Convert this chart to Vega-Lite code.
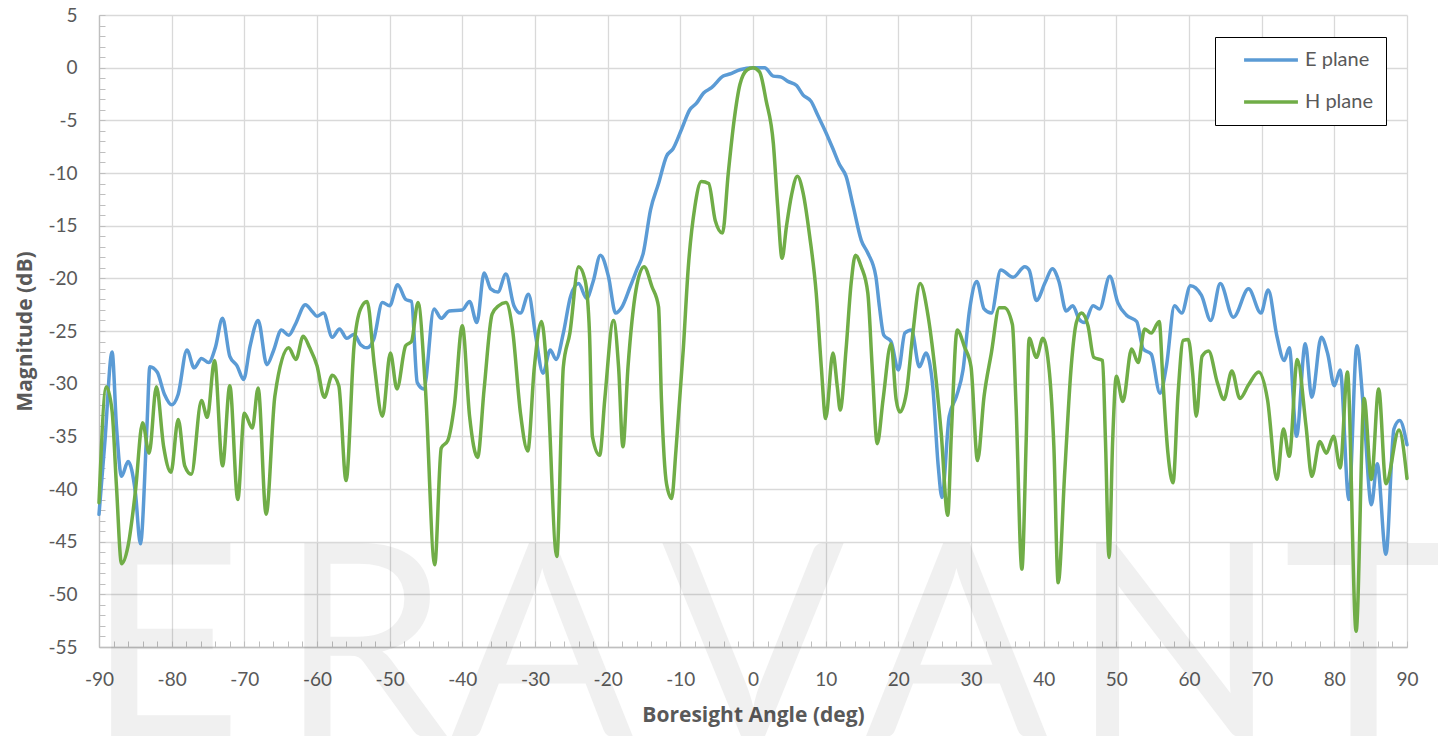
{
"$schema": "https://vega.github.io/schema/vega-lite/v6.json",
"width": 1308, "height": 632,
"autosize": "none",
"padding": {"left": 99, "top": 15, "right": 31, "bottom": 89},
"background": "white",
"config": {"view": {"stroke": null}, "font": "Lato"},
"resolve": {"axis": {"x": "independent", "y": "independent"}},
"layer": [
{
"data": {"values": [{"angle": -81, "letter": "E"}, {"angle": -53.5, "letter": "R"}, {"angle": -29, "letter": "A"}, {"angle": 0, "letter": "V"}, {"angle": 28, "letter": "A"}, {"angle": 58, "letter": "N"}, {"angle": 84, "letter": "T"}]},
"mark": {"type": "text", "fontSize": 270, "font": "Lato", "baseline": "alphabetic", "align": "center", "color": "#000000", "opacity": 0.055},
"encoding": {
"x": {"field": "angle", "type": "quantitative", "scale": {"domain": [-90, 90], "nice": false},
"axis": {"orient": "bottom", "values": [-90,-88,-86,-84,-82,-80,-78,-76,-74,-72,-70,-68,-66,-64,-62,-60,-58,-56,-54,-52,-50,-48,-46,-44,-42,-40,-38,-36,-34,-32,-30,-28,-26,-24,-22,-20,-18,-16,-14,-12,-10,-8,-6,-4,-2,0,2,4,6,8,10,12,14,16,18,20,22,24,26,28,30,32,34,36,38,40,42,44,46,48,50,52,54,56,58,60,62,64,66,68,70,72,74,76,78,80,82,84,86,88,90], "labels": false, "grid": false, "domain": false, "ticks": true, "tickSize": -6, "tickColor": "#bfbfbf", "tickWidth": 1, "title": null}},
"y": {"datum": -63.5, "type": "quantitative", "scale": {"domain": [-55, 5], "nice": false},
"axis": {"orient": "left", "values": [-55,-54,-53,-52,-51,-50,-49,-48,-47,-46,-45,-44,-43,-42,-41,-40,-39,-38,-37,-36,-35,-34,-33,-32,-31,-30,-29,-28,-27,-26,-25,-24,-23,-22,-21,-20,-19,-18,-17,-16,-15,-14,-13,-12,-11,-10,-9,-8,-7,-6,-5,-4,-3,-2,-1,0,1,2,3,4,5], "labels": false, "grid": false, "domain": false, "ticks": true, "tickSize": -6, "tickColor": "#bfbfbf", "tickWidth": 1, "title": null}},
"text": {"field": "letter"}
}
},
{
"data": {"values": [
{"angle":-90,"magnitude":-42.4,"plane":"E plane"},{"angle":-89.2,"magnitude":-35.6,"plane":"E plane"},{"angle":-88.2,"magnitude":-27.0,"plane":"E plane"},{"angle":-87.6,"magnitude":-34.0,"plane":"E plane"},{"angle":-86.9,"magnitude":-38.8,"plane":"E plane"},{"angle":-86.0,"magnitude":-37.4,"plane":"E plane"},{"angle":-85.0,"magnitude":-40.3,"plane":"E plane"},{"angle":-84.3,"magnitude":-45.2,"plane":"E plane"},{"angle":-83.4,"magnitude":-34.0,"plane":"E plane"},{"angle":-83.0,"magnitude":-28.4,"plane":"E plane"},{"angle":-82.0,"magnitude":-28.9,"plane":"E plane"},{"angle":-81.0,"magnitude":-31.0,"plane":"E plane"},{"angle":-80.0,"magnitude":-32.0,"plane":"E plane"},{"angle":-79.1,"magnitude":-31.0,"plane":"E plane"},{"angle":-77.9,"magnitude":-26.8,"plane":"E plane"},{"angle":-76.9,"magnitude":-28.5,"plane":"E plane"},{"angle":-75.9,"magnitude":-27.6,"plane":"E plane"},{"angle":-74.9,"magnitude":-28.0,"plane":"E plane"},{"angle":-74.0,"magnitude":-26.6,"plane":"E plane"},{"angle":-73.0,"magnitude":-23.8,"plane":"E plane"},{"angle":-72.0,"magnitude":-27.4,"plane":"E plane"},{"angle":-71.0,"magnitude":-28.3,"plane":"E plane"},{"angle":-70.1,"magnitude":-29.6,"plane":"E plane"},{"angle":-69.2,"magnitude":-26.4,"plane":"E plane"},{"angle":-68.1,"magnitude":-24.0,"plane":"E plane"},{"angle":-66.9,"magnitude":-28.2,"plane":"E plane"},{"angle":-66.0,"magnitude":-26.9,"plane":"E plane"},{"angle":-64.9,"magnitude":-24.9,"plane":"E plane"},{"angle":-63.9,"magnitude":-25.4,"plane":"E plane"},{"angle":-63.0,"magnitude":-24.4,"plane":"E plane"},{"angle":-61.6,"magnitude":-22.5,"plane":"E plane"},{"angle":-60.6,"magnitude":-23.2,"plane":"E plane"},{"angle":-60.0,"magnitude":-23.6,"plane":"E plane"},{"angle":-59.1,"magnitude":-23.3,"plane":"E plane"},{"angle":-57.9,"magnitude":-25.6,"plane":"E plane"},{"angle":-56.9,"magnitude":-24.8,"plane":"E plane"},{"angle":-55.9,"magnitude":-25.7,"plane":"E plane"},{"angle":-54.9,"magnitude":-25.3,"plane":"E plane"},{"angle":-54.0,"magnitude":-26.3,"plane":"E plane"},{"angle":-53.1,"magnitude":-26.6,"plane":"E plane"},{"angle":-52.2,"magnitude":-25.8,"plane":"E plane"},{"angle":-51.0,"magnitude":-22.3,"plane":"E plane"},{"angle":-50.0,"magnitude":-22.6,"plane":"E plane"},{"angle":-48.9,"magnitude":-20.6,"plane":"E plane"},{"angle":-47.8,"magnitude":-22.0,"plane":"E plane"},{"angle":-47.0,"magnitude":-22.2,"plane":"E plane"},{"angle":-46.2,"magnitude":-29.9,"plane":"E plane"},{"angle":-45.3,"magnitude":-30.5,"plane":"E plane"},{"angle":-43.9,"magnitude":-22.9,"plane":"E plane"},{"angle":-42.9,"magnitude":-23.8,"plane":"E plane"},{"angle":-41.8,"magnitude":-23.1,"plane":"E plane"},{"angle":-40.0,"magnitude":-23.0,"plane":"E plane"},{"angle":-39.0,"magnitude":-22.2,"plane":"E plane"},{"angle":-38.0,"magnitude":-24.2,"plane":"E plane"},{"angle":-37.0,"magnitude":-19.5,"plane":"E plane"},{"angle":-36.1,"magnitude":-21.0,"plane":"E plane"},{"angle":-35.1,"magnitude":-21.3,"plane":"E plane"},{"angle":-34.0,"magnitude":-19.6,"plane":"E plane"},{"angle":-32.9,"magnitude":-22.6,"plane":"E plane"},{"angle":-32.0,"magnitude":-23.3,"plane":"E plane"},{"angle":-30.9,"magnitude":-21.5,"plane":"E plane"},{"angle":-29.9,"magnitude":-25.5,"plane":"E plane"},{"angle":-28.9,"magnitude":-29.0,"plane":"E plane"},{"angle":-27.9,"magnitude":-26.8,"plane":"E plane"},{"angle":-27.1,"magnitude":-27.7,"plane":"E plane"},{"angle":-26.1,"magnitude":-25.2,"plane":"E plane"},{"angle":-25.1,"magnitude":-21.7,"plane":"E plane"},{"angle":-24.0,"magnitude":-20.5,"plane":"E plane"},{"angle":-22.9,"magnitude":-21.9,"plane":"E plane"},{"angle":-22.0,"magnitude":-20.3,"plane":"E plane"},{"angle":-21.0,"magnitude":-17.8,"plane":"E plane"},{"angle":-19.9,"magnitude":-19.8,"plane":"E plane"},{"angle":-18.9,"magnitude":-23.3,"plane":"E plane"},{"angle":-18.1,"magnitude":-22.8,"plane":"E plane"},{"angle":-16.9,"magnitude":-20.8,"plane":"E plane"},{"angle":-16.0,"magnitude":-19.2,"plane":"E plane"},{"angle":-15.1,"magnitude":-17.6,"plane":"E plane"},{"angle":-14.1,"magnitude":-13.5,"plane":"E plane"},{"angle":-13.0,"magnitude":-11.0,"plane":"E plane"},{"angle":-11.9,"magnitude":-8.4,"plane":"E plane"},{"angle":-11.0,"magnitude":-7.7,"plane":"E plane"},{"angle":-9.8,"magnitude":-5.8,"plane":"E plane"},{"angle":-8.7,"magnitude":-4.0,"plane":"E plane"},{"angle":-7.8,"magnitude":-3.4,"plane":"E plane"},{"angle":-6.8,"magnitude":-2.4,"plane":"E plane"},{"angle":-5.7,"magnitude":-1.9,"plane":"E plane"},{"angle":-4.1,"magnitude":-0.8,"plane":"E plane"},{"angle":-3.2,"magnitude":-0.6,"plane":"E plane"},{"angle":-1.8,"magnitude":-0.2,"plane":"E plane"},{"angle":0,"magnitude":0,"plane":"E plane"},{"angle":1.6,"magnitude":0,"plane":"E plane"},{"angle":2.8,"magnitude":-0.8,"plane":"E plane"},{"angle":3.9,"magnitude":-0.9,"plane":"E plane"},{"angle":4.8,"magnitude":-1.3,"plane":"E plane"},{"angle":6.0,"magnitude":-1.7,"plane":"E plane"},{"angle":6.9,"magnitude":-2.6,"plane":"E plane"},{"angle":8.0,"magnitude":-3.2,"plane":"E plane"},{"angle":8.9,"magnitude":-4.5,"plane":"E plane"},{"angle":10.0,"magnitude":-6.1,"plane":"E plane"},{"angle":11.0,"magnitude":-7.7,"plane":"E plane"},{"angle":11.9,"magnitude":-9.2,"plane":"E plane"},{"angle":12.8,"magnitude":-10.3,"plane":"E plane"},{"angle":13.8,"magnitude":-13.2,"plane":"E plane"},{"angle":14.9,"magnitude":-16.4,"plane":"E plane"},{"angle":15.8,"magnitude":-17.6,"plane":"E plane"},{"angle":16.9,"magnitude":-19.8,"plane":"E plane"},{"angle":17.4,"magnitude":-22.7,"plane":"E plane"},{"angle":18.0,"magnitude":-25.4,"plane":"E plane"},{"angle":19.0,"magnitude":-26.0,"plane":"E plane"},{"angle":20.0,"magnitude":-28.7,"plane":"E plane"},{"angle":20.9,"magnitude":-25.2,"plane":"E plane"},{"angle":21.8,"magnitude":-24.9,"plane":"E plane"},{"angle":22.9,"magnitude":-28.4,"plane":"E plane"},{"angle":23.8,"magnitude":-27.1,"plane":"E plane"},{"angle":24.7,"magnitude":-30.0,"plane":"E plane"},{"angle":25.5,"magnitude":-37.9,"plane":"E plane"},{"angle":26.0,"magnitude":-40.8,"plane":"E plane"},{"angle":27.0,"magnitude":-33.1,"plane":"E plane"},{"angle":28.0,"magnitude":-31.2,"plane":"E plane"},{"angle":28.9,"magnitude":-28.7,"plane":"E plane"},{"angle":29.8,"magnitude":-23.0,"plane":"E plane"},{"angle":30.8,"magnitude":-20.3,"plane":"E plane"},{"angle":31.8,"magnitude":-22.9,"plane":"E plane"},{"angle":32.8,"magnitude":-23.3,"plane":"E plane"},{"angle":34.1,"magnitude":-19.2,"plane":"E plane"},{"angle":35.8,"magnitude":-19.9,"plane":"E plane"},{"angle":37.4,"magnitude":-18.9,"plane":"E plane"},{"angle":38.0,"magnitude":-19.2,"plane":"E plane"},{"angle":39.0,"magnitude":-22.1,"plane":"E plane"},{"angle":40.2,"magnitude":-20.4,"plane":"E plane"},{"angle":41.2,"magnitude":-19.1,"plane":"E plane"},{"angle":42.1,"magnitude":-20.3,"plane":"E plane"},{"angle":43.1,"magnitude":-23.1,"plane":"E plane"},{"angle":44.0,"magnitude":-22.6,"plane":"E plane"},{"angle":44.9,"magnitude":-23.9,"plane":"E plane"},{"angle":45.6,"magnitude":-24.2,"plane":"E plane"},{"angle":46.8,"magnitude":-22.6,"plane":"E plane"},{"angle":47.7,"magnitude":-22.9,"plane":"E plane"},{"angle":49.1,"magnitude":-19.8,"plane":"E plane"},{"angle":50.2,"magnitude":-22.3,"plane":"E plane"},{"angle":51.4,"magnitude":-23.5,"plane":"E plane"},{"angle":52.8,"magnitude":-24.1,"plane":"E plane"},{"angle":53.7,"magnitude":-26.7,"plane":"E plane"},{"angle":54.8,"magnitude":-27.2,"plane":"E plane"},{"angle":56.0,"magnitude":-30.9,"plane":"E plane"},{"angle":56.9,"magnitude":-28.3,"plane":"E plane"},{"angle":58.0,"magnitude":-22.6,"plane":"E plane"},{"angle":59.0,"magnitude":-23.3,"plane":"E plane"},{"angle":60.2,"magnitude":-20.7,"plane":"E plane"},{"angle":61.7,"magnitude":-21.6,"plane":"E plane"},{"angle":63.0,"magnitude":-24.0,"plane":"E plane"},{"angle":64.3,"magnitude":-20.5,"plane":"E plane"},{"angle":66.1,"magnitude":-23.7,"plane":"E plane"},{"angle":68.2,"magnitude":-21.0,"plane":"E plane"},{"angle":69.9,"magnitude":-23.3,"plane":"E plane"},{"angle":70.9,"magnitude":-21.1,"plane":"E plane"},{"angle":72.1,"magnitude":-25.5,"plane":"E plane"},{"angle":73.1,"magnitude":-27.8,"plane":"E plane"},{"angle":73.8,"magnitude":-26.6,"plane":"E plane"},{"angle":74.8,"magnitude":-35.0,"plane":"E plane"},{"angle":76.0,"magnitude":-26.2,"plane":"E plane"},{"angle":76.9,"magnitude":-31.3,"plane":"E plane"},{"angle":78.2,"magnitude":-25.6,"plane":"E plane"},{"angle":79.1,"magnitude":-27.2,"plane":"E plane"},{"angle":80.0,"magnitude":-30.2,"plane":"E plane"},{"angle":80.8,"magnitude":-28.7,"plane":"E plane"},{"angle":82.0,"magnitude":-41.0,"plane":"E plane"},{"angle":83.1,"magnitude":-26.4,"plane":"E plane"},{"angle":84.1,"magnitude":-33.2,"plane":"E plane"},{"angle":85.1,"magnitude":-41.5,"plane":"E plane"},{"angle":85.9,"magnitude":-37.6,"plane":"E plane"},{"angle":87.1,"magnitude":-46.2,"plane":"E plane"},{"angle":88.2,"magnitude":-34.3,"plane":"E plane"},{"angle":89.0,"magnitude":-33.5,"plane":"E plane"},{"angle":90,"magnitude":-35.8,"plane":"E plane"},
{"angle":-90,"magnitude":-41.3,"plane":"H plane"},{"angle":-89.0,"magnitude":-30.3,"plane":"H plane"},{"angle":-88.2,"magnitude":-32.6,"plane":"H plane"},{"angle":-87.6,"magnitude":-39.7,"plane":"H plane"},{"angle":-86.9,"magnitude":-47.1,"plane":"H plane"},{"angle":-86.0,"magnitude":-45.4,"plane":"H plane"},{"angle":-85.0,"magnitude":-40.3,"plane":"H plane"},{"angle":-84.0,"magnitude":-33.7,"plane":"H plane"},{"angle":-83.1,"magnitude":-36.6,"plane":"H plane"},{"angle":-82.1,"magnitude":-30.3,"plane":"H plane"},{"angle":-81.1,"magnitude":-36.0,"plane":"H plane"},{"angle":-80.1,"magnitude":-38.4,"plane":"H plane"},{"angle":-79.1,"magnitude":-33.4,"plane":"H plane"},{"angle":-78.2,"magnitude":-37.8,"plane":"H plane"},{"angle":-77.3,"magnitude":-38.6,"plane":"H plane"},{"angle":-75.9,"magnitude":-31.6,"plane":"H plane"},{"angle":-75.1,"magnitude":-33.2,"plane":"H plane"},{"angle":-74.1,"magnitude":-27.8,"plane":"H plane"},{"angle":-73.0,"magnitude":-37.8,"plane":"H plane"},{"angle":-72.0,"magnitude":-30.2,"plane":"H plane"},{"angle":-70.9,"magnitude":-41.0,"plane":"H plane"},{"angle":-70.0,"magnitude":-32.8,"plane":"H plane"},{"angle":-68.9,"magnitude":-34.2,"plane":"H plane"},{"angle":-68.1,"magnitude":-30.4,"plane":"H plane"},{"angle":-67.0,"magnitude":-42.4,"plane":"H plane"},{"angle":-65.8,"magnitude":-31.2,"plane":"H plane"},{"angle":-63.9,"magnitude":-26.6,"plane":"H plane"},{"angle":-62.9,"magnitude":-27.7,"plane":"H plane"},{"angle":-61.9,"magnitude":-25.5,"plane":"H plane"},{"angle":-61.0,"magnitude":-26.6,"plane":"H plane"},{"angle":-60.0,"magnitude":-28.3,"plane":"H plane"},{"angle":-59.0,"magnitude":-31.3,"plane":"H plane"},{"angle":-57.9,"magnitude":-29.2,"plane":"H plane"},{"angle":-57.0,"magnitude":-30.2,"plane":"H plane"},{"angle":-56.0,"magnitude":-39.2,"plane":"H plane"},{"angle":-54.9,"magnitude":-26.4,"plane":"H plane"},{"angle":-54.0,"magnitude":-22.9,"plane":"H plane"},{"angle":-53.1,"magnitude":-22.2,"plane":"H plane"},{"angle":-52.1,"magnitude":-28.3,"plane":"H plane"},{"angle":-51.0,"magnitude":-33.1,"plane":"H plane"},{"angle":-49.9,"magnitude":-27.1,"plane":"H plane"},{"angle":-49.0,"magnitude":-30.5,"plane":"H plane"},{"angle":-47.8,"magnitude":-26.4,"plane":"H plane"},{"angle":-47.0,"magnitude":-26.0,"plane":"H plane"},{"angle":-46.1,"magnitude":-22.3,"plane":"H plane"},{"angle":-45.1,"magnitude":-30.2,"plane":"H plane"},{"angle":-43.8,"magnitude":-47.2,"plane":"H plane"},{"angle":-42.9,"magnitude":-36.1,"plane":"H plane"},{"angle":-42.0,"magnitude":-35.4,"plane":"H plane"},{"angle":-41.1,"magnitude":-32.1,"plane":"H plane"},{"angle":-40.0,"magnitude":-24.5,"plane":"H plane"},{"angle":-39.0,"magnitude":-33.1,"plane":"H plane"},{"angle":-37.9,"magnitude":-37.0,"plane":"H plane"},{"angle":-37.0,"magnitude":-30.5,"plane":"H plane"},{"angle":-35.9,"magnitude":-23.4,"plane":"H plane"},{"angle":-35.0,"magnitude":-22.6,"plane":"H plane"},{"angle":-34.0,"magnitude":-22.3,"plane":"H plane"},{"angle":-33.1,"magnitude":-24.8,"plane":"H plane"},{"angle":-32.0,"magnitude":-32.8,"plane":"H plane"},{"angle":-31.0,"magnitude":-36.4,"plane":"H plane"},{"angle":-30.1,"magnitude":-28.5,"plane":"H plane"},{"angle":-29.1,"magnitude":-24.1,"plane":"H plane"},{"angle":-28.4,"magnitude":-28.4,"plane":"H plane"},{"angle":-27.0,"magnitude":-46.4,"plane":"H plane"},{"angle":-26.1,"magnitude":-28.4,"plane":"H plane"},{"angle":-25.2,"magnitude":-25.2,"plane":"H plane"},{"angle":-24.0,"magnitude":-18.9,"plane":"H plane"},{"angle":-23.1,"magnitude":-20.2,"plane":"H plane"},{"angle":-22.5,"magnitude":-25.2,"plane":"H plane"},{"angle":-22.1,"magnitude":-35.0,"plane":"H plane"},{"angle":-21.1,"magnitude":-36.8,"plane":"H plane"},{"angle":-20.4,"magnitude":-31.5,"plane":"H plane"},{"angle":-19.2,"magnitude":-24.0,"plane":"H plane"},{"angle":-18.5,"magnitude":-28.4,"plane":"H plane"},{"angle":-17.9,"magnitude":-36.0,"plane":"H plane"},{"angle":-17.2,"magnitude":-28.4,"plane":"H plane"},{"angle":-16.1,"magnitude":-21.1,"plane":"H plane"},{"angle":-15.0,"magnitude":-18.9,"plane":"H plane"},{"angle":-13.9,"magnitude":-20.8,"plane":"H plane"},{"angle":-13.0,"magnitude":-22.7,"plane":"H plane"},{"angle":-12.6,"magnitude":-31.5,"plane":"H plane"},{"angle":-11.9,"magnitude":-39.5,"plane":"H plane"},{"angle":-11.2,"magnitude":-40.9,"plane":"H plane"},{"angle":-10.6,"magnitude":-36.3,"plane":"H plane"},{"angle":-9.6,"magnitude":-26.8,"plane":"H plane"},{"angle":-8.9,"magnitude":-18.9,"plane":"H plane"},{"angle":-8.0,"magnitude":-13.2,"plane":"H plane"},{"angle":-7.1,"magnitude":-10.8,"plane":"H plane"},{"angle":-6.1,"magnitude":-11.0,"plane":"H plane"},{"angle":-5.2,"magnitude":-14.5,"plane":"H plane"},{"angle":-4.2,"magnitude":-15.7,"plane":"H plane"},{"angle":-3.4,"magnitude":-10.0,"plane":"H plane"},{"angle":-2.6,"magnitude":-5.0,"plane":"H plane"},{"angle":-1.8,"magnitude":-1.6,"plane":"H plane"},{"angle":-0.8,"magnitude":-0.2,"plane":"H plane"},{"angle":0,"magnitude":0,"plane":"H plane"},{"angle":0.9,"magnitude":-0.4,"plane":"H plane"},{"angle":1.8,"magnitude":-3.1,"plane":"H plane"},{"angle":2.8,"magnitude":-7.2,"plane":"H plane"},{"angle":3.4,"magnitude":-13.2,"plane":"H plane"},{"angle":4.0,"magnitude":-18.1,"plane":"H plane"},{"angle":4.6,"magnitude":-15.1,"plane":"H plane"},{"angle":5.3,"magnitude":-12.1,"plane":"H plane"},{"angle":6.1,"magnitude":-10.3,"plane":"H plane"},{"angle":6.9,"magnitude":-11.9,"plane":"H plane"},{"angle":7.8,"magnitude":-16.0,"plane":"H plane"},{"angle":8.7,"magnitude":-21.4,"plane":"H plane"},{"angle":9.4,"magnitude":-28.4,"plane":"H plane"},{"angle":10.0,"magnitude":-33.3,"plane":"H plane"},{"angle":11.0,"magnitude":-27.1,"plane":"H plane"},{"angle":11.6,"magnitude":-30.3,"plane":"H plane"},{"angle":12.0,"magnitude":-32.5,"plane":"H plane"},{"angle":12.8,"magnitude":-26.8,"plane":"H plane"},{"angle":13.5,"magnitude":-20.5,"plane":"H plane"},{"angle":14.1,"magnitude":-17.8,"plane":"H plane"},{"angle":14.9,"magnitude":-18.9,"plane":"H plane"},{"angle":15.8,"magnitude":-21.4,"plane":"H plane"},{"angle":16.4,"magnitude":-28.4,"plane":"H plane"},{"angle":17.1,"magnitude":-35.7,"plane":"H plane"},{"angle":17.9,"magnitude":-31.5,"plane":"H plane"},{"angle":19.0,"magnitude":-26.2,"plane":"H plane"},{"angle":19.7,"magnitude":-31.5,"plane":"H plane"},{"angle":20.2,"magnitude":-32.7,"plane":"H plane"},{"angle":21.1,"magnitude":-30.9,"plane":"H plane"},{"angle":22.0,"magnitude":-25.2,"plane":"H plane"},{"angle":23.0,"magnitude":-20.5,"plane":"H plane"},{"angle":24.1,"magnitude":-23.6,"plane":"H plane"},{"angle":25.0,"magnitude":-28.4,"plane":"H plane"},{"angle":25.9,"magnitude":-34.7,"plane":"H plane"},{"angle":26.8,"magnitude":-42.5,"plane":"H plane"},{"angle":27.3,"magnitude":-34.7,"plane":"H plane"},{"angle":28.1,"magnitude":-24.9,"plane":"H plane"},{"angle":29.1,"magnitude":-26.5,"plane":"H plane"},{"angle":30.0,"magnitude":-28.4,"plane":"H plane"},{"angle":30.9,"magnitude":-37.3,"plane":"H plane"},{"angle":31.8,"magnitude":-31.2,"plane":"H plane"},{"angle":32.8,"magnitude":-27.1,"plane":"H plane"},{"angle":33.9,"magnitude":-22.8,"plane":"H plane"},{"angle":34.6,"magnitude":-22.8,"plane":"H plane"},{"angle":35.7,"magnitude":-24.4,"plane":"H plane"},{"angle":36.2,"magnitude":-32.1,"plane":"H plane"},{"angle":37.0,"magnitude":-47.6,"plane":"H plane"},{"angle":37.6,"magnitude":-35.3,"plane":"H plane"},{"angle":38.0,"magnitude":-25.7,"plane":"H plane"},{"angle":39.0,"magnitude":-27.5,"plane":"H plane"},{"angle":39.9,"magnitude":-25.7,"plane":"H plane"},{"angle":40.8,"magnitude":-29.0,"plane":"H plane"},{"angle":41.4,"magnitude":-35.9,"plane":"H plane"},{"angle":42.0,"magnitude":-48.9,"plane":"H plane"},{"angle":42.9,"magnitude":-38.4,"plane":"H plane"},{"angle":43.8,"magnitude":-28.3,"plane":"H plane"},{"angle":44.5,"magnitude":-24.2,"plane":"H plane"},{"angle":45.2,"magnitude":-23.3,"plane":"H plane"},{"angle":46.1,"magnitude":-24.5,"plane":"H plane"},{"angle":46.9,"magnitude":-27.5,"plane":"H plane"},{"angle":48.1,"magnitude":-27.8,"plane":"H plane"},{"angle":48.5,"magnitude":-35.3,"plane":"H plane"},{"angle":49.0,"magnitude":-46.5,"plane":"H plane"},{"angle":49.5,"magnitude":-35.3,"plane":"H plane"},{"angle":50.0,"magnitude":-29.3,"plane":"H plane"},{"angle":50.9,"magnitude":-31.7,"plane":"H plane"},{"angle":52.1,"magnitude":-26.7,"plane":"H plane"},{"angle":53.0,"magnitude":-28.0,"plane":"H plane"},{"angle":53.9,"magnitude":-24.8,"plane":"H plane"},{"angle":54.8,"magnitude":-25.2,"plane":"H plane"},{"angle":55.9,"magnitude":-24.1,"plane":"H plane"},{"angle":56.4,"magnitude":-29.6,"plane":"H plane"},{"angle":57.1,"magnitude":-36.6,"plane":"H plane"},{"angle":57.8,"magnitude":-39.4,"plane":"H plane"},{"angle":58.5,"magnitude":-30.9,"plane":"H plane"},{"angle":59.2,"magnitude":-25.9,"plane":"H plane"},{"angle":59.9,"magnitude":-25.8,"plane":"H plane"},{"angle":60.5,"magnitude":-29.0,"plane":"H plane"},{"angle":61.0,"magnitude":-33.1,"plane":"H plane"},{"angle":61.8,"magnitude":-27.4,"plane":"H plane"},{"angle":62.7,"magnitude":-26.9,"plane":"H plane"},{"angle":63.9,"magnitude":-29.9,"plane":"H plane"},{"angle":64.8,"magnitude":-31.5,"plane":"H plane"},{"angle":65.9,"magnitude":-28.8,"plane":"H plane"},{"angle":67.0,"magnitude":-31.4,"plane":"H plane"},{"angle":68.2,"magnitude":-30.1,"plane":"H plane"},{"angle":69.6,"magnitude":-28.9,"plane":"H plane"},{"angle":70.8,"magnitude":-31.5,"plane":"H plane"},{"angle":72.1,"magnitude":-39.1,"plane":"H plane"},{"angle":73.0,"magnitude":-34.3,"plane":"H plane"},{"angle":73.8,"magnitude":-36.9,"plane":"H plane"},{"angle":74.9,"magnitude":-27.7,"plane":"H plane"},{"angle":76.1,"magnitude":-34.0,"plane":"H plane"},{"angle":76.9,"magnitude":-38.8,"plane":"H plane"},{"angle":78.0,"magnitude":-35.5,"plane":"H plane"},{"angle":78.9,"magnitude":-36.6,"plane":"H plane"},{"angle":79.9,"magnitude":-35.0,"plane":"H plane"},{"angle":80.8,"magnitude":-38.0,"plane":"H plane"},{"angle":81.8,"magnitude":-28.9,"plane":"H plane"},{"angle":83.0,"magnitude":-53.5,"plane":"H plane"},{"angle":84.1,"magnitude":-31.4,"plane":"H plane"},{"angle":85.1,"magnitude":-39.1,"plane":"H plane"},{"angle":86.1,"magnitude":-30.5,"plane":"H plane"},{"angle":87.1,"magnitude":-39.5,"plane":"H plane"},{"angle":88.9,"magnitude":-34.4,"plane":"H plane"},{"angle":90,"magnitude":-39.0,"plane":"H plane"}
]},
"mark": {"type": "line", "interpolate": "monotone", "strokeWidth": 3.5, "strokeCap": "round", "strokeJoin": "round"},
"encoding": {
"x": {"field": "angle", "type": "quantitative", "scale": {"domain": [-90, 90], "nice": false},
"axis": {"orient": "bottom", "values": [-90,-80,-70,-60,-50,-40,-30,-20,-10,0,10,20,30,40,50,60,70,80,90], "labelExpr": "'' + datum.value", "grid": true, "gridColor": "#d9d9d9", "gridWidth": 1.3, "ticks": false, "domainColor": "#bfbfbf", "domainWidth": 1.3, "labelFont": "Lato", "labelFontSize": 19, "labelColor": "#595959", "labelPadding": 23, "labelFlush": false, "title": "Boresight Angle (deg)", "titleFont": "Open Sans", "titleFontSize": 21, "titleFontWeight": "bold", "titleColor": "#595959", "titlePadding": 15}},
"y": {"field": "magnitude", "type": "quantitative", "scale": {"domain": [-55, 5], "nice": false},
"axis": {"orient": "left", "values": [-55,-50,-45,-40,-35,-30,-25,-20,-15,-10,-5,0,5], "labelExpr": "'' + datum.value", "grid": true, "gridColor": "#d9d9d9", "gridWidth": 1.3, "ticks": false, "domainColor": "#bfbfbf", "domainWidth": 1.3, "labelFont": "Lato", "labelFontSize": 19, "labelColor": "#595959", "labelPadding": 22, "labelFlush": false, "title": "Magnitude (dB)", "titleFont": "Open Sans", "titleFontSize": 21, "titleFontWeight": "bold", "titleColor": "#595959", "titlePadding": 12}},
"color": {"field": "plane", "type": "nominal", "scale": {"domain": ["E plane", "H plane"], "range": ["#5b9bd5", "#70ad47"]},
"legend": {"orient": "none", "legendX": 1116, "legendY": 22, "title": null, "symbolType": "stroke", "symbolStrokeWidth": 3.5, "symbolSize": 2900, "clipHeight": 20, "symbolOffset": 14, "labelFont": "Lato", "labelFontSize": 20, "labelColor": "#595959", "labelOffset": 5, "strokeColor": "#000000", "fillColor": "#ffffff", "padding": 13, "rowPadding": 22}}
}
}
]
}
